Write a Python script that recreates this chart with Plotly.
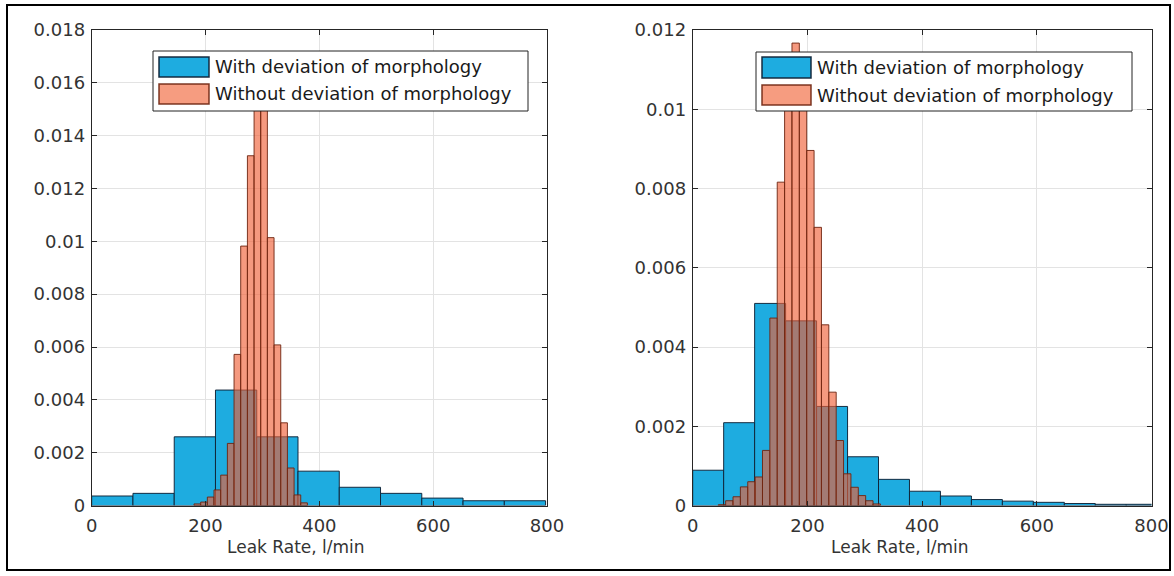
import plotly.graph_objects as go

W, H = 1174, 576

# ---------------- data ----------------
# Left panel
left_blue_edges = [0, 72.5, 145, 217.5, 290, 362.5, 435, 507.5, 580, 652.5, 725, 797.5]
left_blue_vals = [0.00036, 0.00046, 0.0026, 0.00437, 0.0026, 0.0013, 0.00069,
                  0.00046, 0.00028, 0.00018, 0.00018]
left_orange_edges = [179.8, 191.5, 203.2, 214.9, 226.7, 238.4, 250.1, 261.8, 273.6,
                     285.3, 297.0, 308.7, 320.4, 332.2, 343.9, 355.6, 367.3, 379.0]
left_orange_vals = [0.00006, 0.00013, 0.00032, 0.00059, 0.00115, 0.00235, 0.00572,
                    0.00982, 0.01324, 0.0157, 0.0153, 0.01014, 0.00608, 0.00313,
                    0.00142, 0.0004, 0.0001]

# Right panel
right_blue_edges = [0, 54, 108, 162, 216, 270, 324, 378, 432, 486, 540, 594, 648, 702, 756, 810]
right_blue_vals = [0.00089, 0.00209, 0.0051, 0.00466, 0.0025, 0.00123, 0.00066, 0.00036,
                   0.00024, 0.00015, 0.00011, 0.00008, 0.00005, 0.00003, 0.00003]
right_orange_edges = [44.6, 57.45, 70.3, 83.15, 96.0, 108.85, 121.7, 134.55, 147.4, 160.25,
                      173.1, 185.95, 198.8, 211.65, 224.5, 237.35, 250.2, 263.05, 275.9,
                      288.75, 301.6, 314.45, 327.3]
right_orange_vals = [0.00002, 0.00012, 0.00022, 0.00047, 0.0006, 0.00072, 0.00139, 0.00473,
                     0.00816, 0.0110, 0.01167, 0.0112, 0.00896, 0.00702, 0.00456, 0.00286,
                     0.00164, 0.0008, 0.00046, 0.00025, 0.00012, 0.00004]

x_ticks = [0, 200, 400, 600, 800]
left_y_ticks = [0, 0.002, 0.004, 0.006, 0.008, 0.01, 0.012, 0.014, 0.016, 0.018]
left_y_labels = ["0", "0.002", "0.004", "0.006", "0.008", "0.01", "0.012", "0.014", "0.016", "0.018"]
right_y_ticks = [0, 0.002, 0.004, 0.006, 0.008, 0.01, 0.012]
right_y_labels = ["0", "0.002", "0.004", "0.006", "0.008", "0.01", "0.012"]

series_names = ["With deviation of morphology", "Without deviation of morphology"]
x_title = "Leak Rate, l/min"

# ---------------- style ----------------
FONT = "DejaVu Sans"
BLUE = "rgb(30,172,224)"
BLUE_LINE = "rgba(15,35,55,0.95)"
ORANGE = "rgba(240,95,55,0.64)"
ORANGE_SOLID = "rgb(246,156,128)"
ORANGE_LINE = "rgba(110,35,15,0.9)"


def bars(edges, vals, color, line, xa, ya, name):
    centers = [(edges[i] + edges[i + 1]) / 2 for i in range(len(vals))]
    widths = [edges[i + 1] - edges[i] for i in range(len(vals))]
    return go.Bar(x=centers, y=vals, width=widths, name=name, showlegend=False,
                  marker=dict(color=color, line=dict(color=line, width=1)),
                  xaxis=xa, yaxis=ya)


fig = go.Figure()
fig.add_trace(bars(left_blue_edges, left_blue_vals, BLUE, BLUE_LINE, "x", "y", series_names[0]))
fig.add_trace(bars(left_orange_edges, left_orange_vals, ORANGE, ORANGE_LINE, "x", "y", series_names[1]))
fig.add_trace(bars(right_blue_edges, right_blue_vals, BLUE, BLUE_LINE, "x2", "y2", series_names[0]))
fig.add_trace(bars(right_orange_edges, right_orange_vals, ORANGE, ORANGE_LINE, "x2", "y2", series_names[1]))


def px(x):
    return x / W


def py(y):
    return 1 - y / H


axis_common = dict(showline=True, linecolor="#262626", linewidth=1, mirror="allticks",
                   ticks="inside", ticklen=5, tickcolor="#262626", showgrid=True,
                   gridcolor="#e3e3e3", gridwidth=1, zeroline=False, automargin=False,
                   tickfont=dict(family=FONT, size=18, color="#333333"))

ydom = [py(505.5), py(30)]
fig.update_layout(
    width=W, height=H, margin=dict(l=0, r=0, t=0, b=0),
    paper_bgcolor="white", plot_bgcolor="white", barmode="overlay",
    font=dict(family=FONT, color="#333333"),
    xaxis=dict(domain=[px(91.7), px(547)], range=[0, 800], tickvals=x_ticks,
               anchor="y", ticklabelstandoff=4, **axis_common),
    yaxis=dict(domain=ydom, range=[0, 0.018], tickvals=left_y_ticks,
               ticktext=left_y_labels, anchor="x", ticklabelstandoff=2, **axis_common),
    xaxis2=dict(domain=[px(692.7), px(1151.5)], range=[0, 800], tickvals=x_ticks,
                anchor="y2", ticklabelstandoff=4, **axis_common),
    yaxis2=dict(domain=ydom, range=[0, 0.012], tickvals=right_y_ticks,
                ticktext=right_y_labels, anchor="x2", ticklabelstandoff=2, **axis_common),
)

shapes = []
annotations = []

# outer frame
shapes.append(dict(type="rect", xref="paper", yref="paper", x0=px(7), x1=px(1170),
                   y0=py(570), y1=py(5), line=dict(color="black", width=2),
                   fillcolor="rgba(0,0,0,0)", layer="above"))


def legend(x0, x1, y0, y1, sx0, sx1, rows):
    shapes.append(dict(type="rect", xref="paper", yref="paper", x0=px(x0), x1=px(x1),
                       y0=py(y1), y1=py(y0), line=dict(color="#222222", width=1),
                       fillcolor="white", layer="above"))
    for (ry0, ry1, fill, line, text) in rows:
        shapes.append(dict(type="rect", xref="paper", yref="paper", x0=px(sx0), x1=px(sx1),
                           y0=py(ry1), y1=py(ry0), line=dict(color=line, width=1.5),
                           fillcolor=fill, layer="above"))
        annotations.append(dict(xref="paper", yref="paper", x=px(sx1 + 4), y=py((ry0 + ry1) / 2),
                                text=text, showarrow=False, xanchor="left", yanchor="middle",
                                font=dict(family=FONT, size=18, color="#1a1a1a")))


legend(153, 528, 51, 111, 159, 209,
       [(57, 77, BLUE, BLUE_LINE, series_names[0]),
        (84, 104, ORANGE_SOLID, ORANGE_LINE, series_names[1])])
legend(756, 1132, 52, 111, 762, 811,
       [(57, 78, BLUE, BLUE_LINE, series_names[0]),
        (85, 105, ORANGE_SOLID, ORANGE_LINE, series_names[1])])

# x axis titles
for cx in (296, 900):
    annotations.append(dict(xref="paper", yref="paper", x=px(cx), y=py(547), text=x_title,
                            showarrow=False, xanchor="center", yanchor="middle",
                            font=dict(family=FONT, size=17, color="#333333")))

fig.update_layout(shapes=shapes, annotations=annotations)
fig.write_html("out.html", config={"displayModeBar": False},
               post_script="document.body.style.margin='0';document.body.style.overflow='hidden';")
